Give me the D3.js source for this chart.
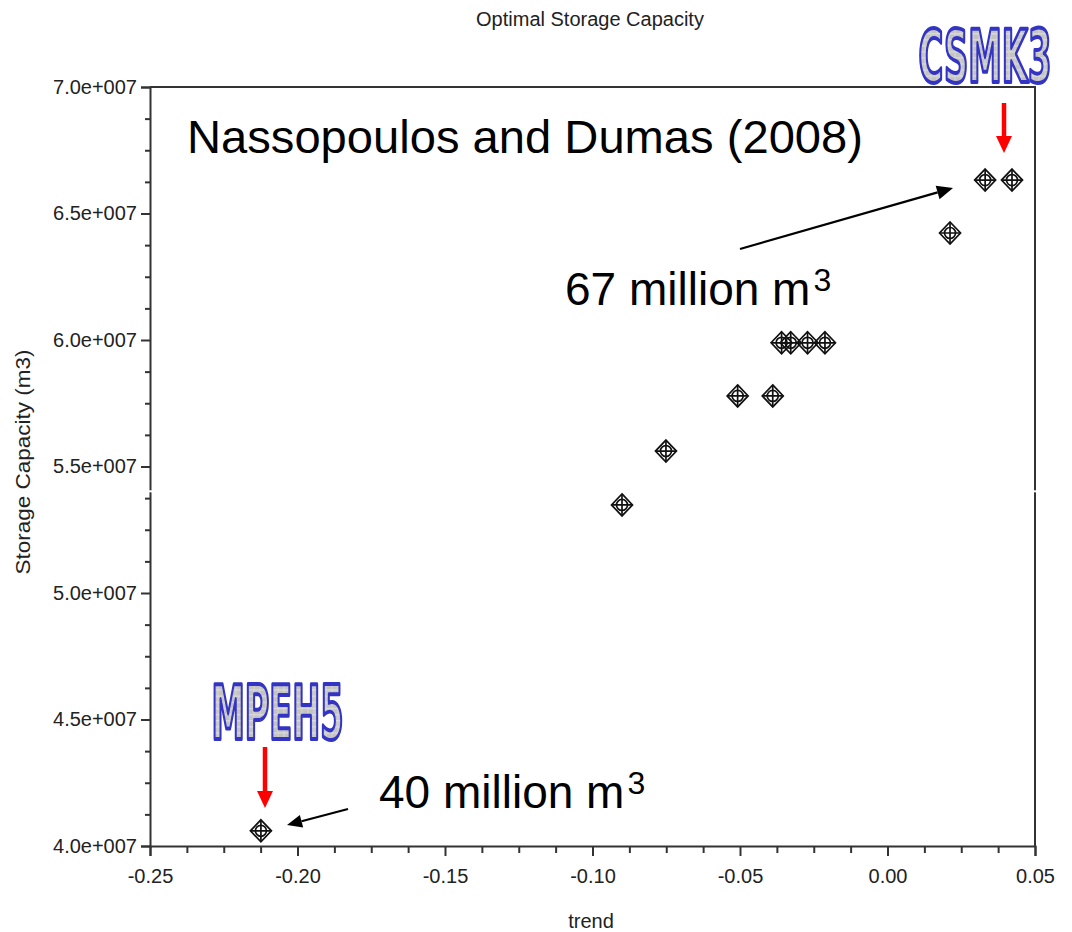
<!DOCTYPE html>
<html>
<head>
<meta charset="utf-8">
<script src="https://cdn.jsdelivr.net/npm/d3@7"></script>
<style>
  html, body { margin: 0; padding: 0; background: #fff; }
  svg { display: block; }
</style>
</head>
<body>
<svg id="chart" width="1072" height="932"></svg>
<script>
// ---- data ----
const trend    = [-0.2124, -0.0900, -0.0751, -0.0508, -0.0389, -0.0359, -0.0328, -0.0271, -0.0212, 0.0212, 0.0331, 0.0422];
const capacity = [4.06e7, 5.348e7, 5.561e7, 5.779e7, 5.779e7, 5.989e7, 5.989e7, 5.989e7, 5.989e7, 6.423e7, 6.632e7, 6.632e7];
const xTickValues = [-0.25, -0.20, -0.15, -0.10, -0.05, 0.00, 0.05];
const xTickLabels = ["-0.25", "-0.20", "-0.15", "-0.10", "-0.05", "0.00", "0.05"];
const yTickValues = [4.0e7, 4.5e7, 5.0e7, 5.5e7, 6.0e7, 6.5e7, 7.0e7];
const yTickLabels = ["4.0e+007", "4.5e+007", "5.0e+007", "5.5e+007", "6.0e+007", "6.5e+007", "7.0e+007"];
const xMinorStep = 0.0125;
const yMinorStep = 1.25e6;
const titleText = "Optimal Storage Capacity";
const xLabel = "trend";
const yLabel = "Storage Capacity (m3)";

(function () {
const points = trend.map((t, i) => ({ t, c: capacity[i] }));

const svg = d3.select("#chart");
const pLeft = 150, pRight = 1035, pTop = 87, pBottom = 846;
const x = d3.scaleLinear().domain([-0.25, 0.05]).range([pLeft, pRight]);
const y = d3.scaleLinear().domain([4.0e7, 7.0e7]).range([pBottom, pTop]);

const axisColor = "#333";
const textColor = "#222";
const font = "'Liberation Sans', Arial, Helvetica, sans-serif";

// defs: grid pattern for word-art labels
const defs = svg.append("defs");
const pat = defs.append("pattern").attr("id", "wgrid")
  .attr("width", 6).attr("height", 3.3).attr("patternUnits", "userSpaceOnUse");
pat.append("rect").attr("width", 6).attr("height", 3.3).attr("fill", "#c3c3c3");
pat.append("path").attr("d", "M0,0.3H6M0.5,0V3.3").attr("stroke", "#dadada").attr("stroke-width", 0.8);

// title
svg.append("text").attr("x", 590).attr("y", 26).attr("text-anchor", "middle")
  .attr("font-family", font).attr("font-size", 20).attr("fill", textColor).text(titleText);

// minor ticks
const xMinor = d3.range(-0.25, 0.05 + 1e-9, xMinorStep).filter(v => !xTickValues.some(t => Math.abs(t - v) < 1e-9));
const yMinor = d3.range(4.0e7, 7.0e7 + 1, yMinorStep).filter(v => !yTickValues.some(t => Math.abs(t - v) < 1));

const gx = svg.append("g").attr("transform", `translate(0,${pBottom})`)
  .call(d3.axisBottom(x).tickValues(xTickValues).tickSize(10).tickPadding(13)
    .tickFormat((d, i) => xTickLabels[i]));
const gxm = svg.append("g").attr("transform", `translate(0,${pBottom})`)
  .call(d3.axisBottom(x).tickValues(xMinor).tickSize(7).tickFormat(""));
const gy = svg.append("g").attr("transform", `translate(${pLeft},0)`)
  .call(d3.axisLeft(y).tickValues(yTickValues).tickSize(9).tickPadding(4)
    .tickFormat((d, i) => yTickLabels[i]));
const gym = svg.append("g").attr("transform", `translate(${pLeft},0)`)
  .call(d3.axisLeft(y).tickValues(yMinor).tickSize(5).tickFormat(""));

[gx, gxm, gy, gym].forEach(g => {
  g.select(".domain").attr("stroke", axisColor).attr("stroke-width", 2);
  g.selectAll(".tick line").attr("stroke", axisColor).attr("stroke-width", 2);
  g.selectAll(".tick text").attr("font-family", font).attr("font-size", 20).attr("fill", textColor);
});
gxm.select(".domain").remove();
gym.select(".domain").remove();

// box: top and right borders
svg.append("path")
  .attr("d", `M${pLeft},${pTop}H${pRight}V${pBottom}`)
  .attr("fill", "none").attr("stroke", axisColor).attr("stroke-width", 2);

// small white break artifact across the frame
svg.append("rect").attr("x", 138).attr("y", y(5.4e7) - 1.5).attr("width", 16).attr("height", 2).attr("fill", "#fff");
svg.append("rect").attr("x", 1030).attr("y", y(5.4e7) - 1.5).attr("width", 12).attr("height", 2).attr("fill", "#fff");

// axis labels
svg.append("text").attr("x", 591).attr("y", 928).attr("text-anchor", "middle")
  .attr("font-family", font).attr("font-size", 20).attr("fill", textColor).text(xLabel);
svg.append("text").attr("transform", "translate(30,462) rotate(-90)").attr("text-anchor", "middle")
  .attr("font-family", font).attr("font-size", 20).attr("fill", textColor)
  .attr("textLength", 225).attr("lengthAdjust", "spacingAndGlyphs").text(yLabel);

// markers
const mk = svg.append("g").selectAll("g").data(points).join("g")
  .attr("transform", d => `translate(${x(d.t)},${y(d.c)})`)
  .attr("fill", "none").attr("stroke", "#111").attr("stroke-width", 1.7);
mk.append("path").attr("d", "M0,-11L10.5,0L0,11L-10.5,0Z");
mk.append("path").attr("d", "M0,-11V11M-10.5,0H10.5");
mk.append("circle").attr("r", 5.5);

// annotations
function arrow(x1, y1, x2, y2, color, w, hl, hw) {
  const a = Math.atan2(y2 - y1, x2 - x1);
  const bx = x2 - hl * Math.cos(a), by = y2 - hl * Math.sin(a);
  svg.append("line").attr("x1", x1).attr("y1", y1).attr("x2", bx).attr("y2", by)
    .attr("stroke", color).attr("stroke-width", w);
  const px = -Math.sin(a) * hw / 2, py = Math.cos(a) * hw / 2;
  svg.append("path").attr("d", `M${x2},${y2}L${bx + px},${by + py}L${bx - px},${by - py}Z`).attr("fill", color);
}

svg.append("text").attr("x", 187).attr("y", 153)
  .attr("font-family", font).attr("font-size", 46).attr("fill", "#000")
  .attr("textLength", 676).attr("lengthAdjust", "spacingAndGlyphs")
  .text("Nassopoulos and Dumas (2008)");

const t67 = svg.append("text").attr("x", 565).attr("y", 305)
  .attr("font-family", font).attr("font-size", 46).attr("fill", "#000");
t67.append("tspan").text("67 million m");
t67.append("tspan").attr("font-size", 32).attr("dx", 3).attr("dy", -14).text("3");

const t40 = svg.append("text").attr("x", 379).attr("y", 808)
  .attr("font-family", font).attr("font-size", 46).attr("fill", "#000");
t40.append("tspan").text("40 million m");
t40.append("tspan").attr("font-size", 32).attr("dx", 3).attr("dy", -14).text("3");

arrow(740, 249, 953, 188, "#000", 2.2, 16, 14);
arrow(348, 809, 287, 825, "#000", 2.2, 15, 13);
arrow(1004, 103, 1004, 153, "#ff0000", 4.5, 17, 16);
arrow(265, 747, 265, 808, "#ff0000", 4.5, 17, 16);

// word-art labels (small font stretched vertically)
function wordArt(txt, xx, yy, len, sy) {
  svg.append("text").attr("x", 0).attr("y", 0)
    .attr("transform", `translate(${xx},${yy}) scale(1,${sy})`)
    .attr("font-family", "'Liberation Sans Narrow', 'DejaVu Sans Condensed', 'Arial Narrow', sans-serif")
    .attr("font-weight", "bold").attr("font-size", 40)
    .attr("textLength", len).attr("lengthAdjust", "spacingAndGlyphs")
    .attr("fill", "url(#wgrid)").attr("stroke", "#3333c4").attr("stroke-width", 3.2)
    .attr("vector-effect", "non-scaling-stroke")
    .attr("stroke-linejoin", "round").text(txt);
}
wordArt("CSMK3", 918.5, 81.5, 133, 1.83);
wordArt("MPEH5", 211.5, 738.5, 132, 1.86);
})();
</script>
</body>
</html>
